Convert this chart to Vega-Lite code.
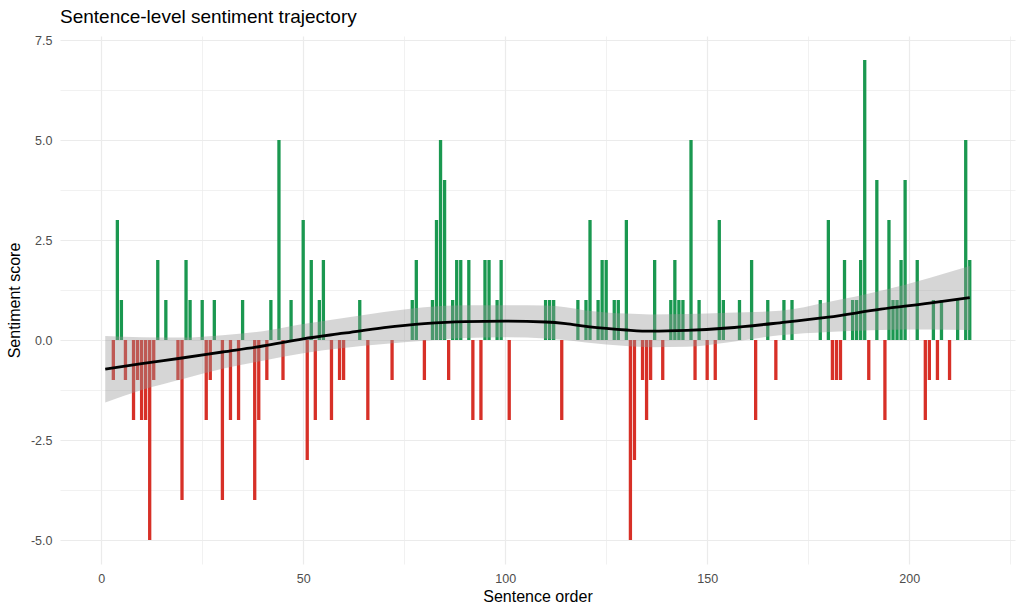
{
  "$schema": "https://vega.github.io/schema/vega-lite/v6.json",
  "width": 955,
  "height": 528,
  "autosize": "none",
  "padding": {"left": 60, "top": 36, "right": 9, "bottom": 50},
  "title": {
    "text": "Sentence-level sentiment trajectory",
    "anchor": "start",
    "frame": "group",
    "font": "Liberation Sans",
    "fontSize": 19,
    "fontWeight": "normal",
    "color": "#000000",
    "offset": 7
  },
  "datasets": {
    "sentences": [
      {"sentence": 3, "score": -1}, {"sentence": 4, "score": 3}, {"sentence": 5, "score": 1},
      {"sentence": 6, "score": -1}, {"sentence": 8, "score": -2}, {"sentence": 9, "score": -1},
      {"sentence": 10, "score": -2}, {"sentence": 11, "score": -2}, {"sentence": 12, "score": -5},
      {"sentence": 13, "score": -1}, {"sentence": 14, "score": 2}, {"sentence": 16, "score": 1},
      {"sentence": 19, "score": -1}, {"sentence": 20, "score": -4}, {"sentence": 21, "score": 2},
      {"sentence": 22, "score": 1}, {"sentence": 25, "score": 1}, {"sentence": 26, "score": -2},
      {"sentence": 27, "score": -1}, {"sentence": 28, "score": 1}, {"sentence": 30, "score": -4},
      {"sentence": 32, "score": -2}, {"sentence": 34, "score": -2}, {"sentence": 35, "score": 1},
      {"sentence": 38, "score": -4}, {"sentence": 39, "score": -2}, {"sentence": 41, "score": -1},
      {"sentence": 42, "score": 1}, {"sentence": 44, "score": 5}, {"sentence": 45, "score": -1},
      {"sentence": 47, "score": 1}, {"sentence": 50, "score": 3}, {"sentence": 51, "score": -3},
      {"sentence": 52, "score": 2}, {"sentence": 53, "score": -2}, {"sentence": 54, "score": 1},
      {"sentence": 55, "score": 2}, {"sentence": 57, "score": -2}, {"sentence": 59, "score": -1},
      {"sentence": 60, "score": -1}, {"sentence": 64, "score": 1}, {"sentence": 66, "score": -2},
      {"sentence": 72, "score": -1}, {"sentence": 77, "score": 1}, {"sentence": 78, "score": 2},
      {"sentence": 80, "score": -1}, {"sentence": 82, "score": 1}, {"sentence": 83, "score": 3},
      {"sentence": 84, "score": 5}, {"sentence": 85, "score": 4}, {"sentence": 86, "score": -1},
      {"sentence": 87, "score": 1}, {"sentence": 88, "score": 2}, {"sentence": 89, "score": 2},
      {"sentence": 91, "score": 2}, {"sentence": 92, "score": -2}, {"sentence": 94, "score": -2},
      {"sentence": 95, "score": 2}, {"sentence": 96, "score": 2}, {"sentence": 98, "score": 1},
      {"sentence": 99, "score": 2}, {"sentence": 101, "score": -2}, {"sentence": 110, "score": 1},
      {"sentence": 111, "score": 1}, {"sentence": 112, "score": 1}, {"sentence": 114, "score": -2},
      {"sentence": 118, "score": 1}, {"sentence": 120, "score": 1}, {"sentence": 121, "score": 3},
      {"sentence": 123, "score": 1}, {"sentence": 124, "score": 2}, {"sentence": 125, "score": 2},
      {"sentence": 127, "score": 1}, {"sentence": 128, "score": 1}, {"sentence": 130, "score": 3},
      {"sentence": 131, "score": -5}, {"sentence": 132, "score": -3}, {"sentence": 134, "score": -1},
      {"sentence": 135, "score": -2}, {"sentence": 136, "score": -1}, {"sentence": 137, "score": 2},
      {"sentence": 139, "score": -1}, {"sentence": 141, "score": 1}, {"sentence": 142, "score": 2},
      {"sentence": 143, "score": 1}, {"sentence": 144, "score": 1}, {"sentence": 146, "score": 5},
      {"sentence": 147, "score": -1}, {"sentence": 148, "score": 1}, {"sentence": 150, "score": -1},
      {"sentence": 152, "score": -1}, {"sentence": 153, "score": 3}, {"sentence": 154, "score": 1},
      {"sentence": 158, "score": 1}, {"sentence": 161, "score": 2}, {"sentence": 162, "score": -2},
      {"sentence": 165, "score": 1}, {"sentence": 167, "score": -1}, {"sentence": 169, "score": 1},
      {"sentence": 171, "score": 1}, {"sentence": 178, "score": 1}, {"sentence": 180, "score": 3},
      {"sentence": 181, "score": -1}, {"sentence": 182, "score": -1}, {"sentence": 183, "score": -1},
      {"sentence": 184, "score": 2}, {"sentence": 186, "score": 1}, {"sentence": 187, "score": 1},
      {"sentence": 188, "score": 2}, {"sentence": 189, "score": 7}, {"sentence": 190, "score": -1},
      {"sentence": 192, "score": 4}, {"sentence": 194, "score": -2}, {"sentence": 195, "score": 3},
      {"sentence": 196, "score": 1}, {"sentence": 197, "score": 1}, {"sentence": 198, "score": 2},
      {"sentence": 199, "score": 4}, {"sentence": 202, "score": 2}, {"sentence": 204, "score": -2},
      {"sentence": 205, "score": -1}, {"sentence": 206, "score": 1}, {"sentence": 207, "score": -1},
      {"sentence": 208, "score": 1}, {"sentence": 210, "score": -1}, {"sentence": 212, "score": 1},
      {"sentence": 214, "score": 5}, {"sentence": 215, "score": 2}
    ],
    "smooth": [
      {"sentence": 1, "fit": -0.73, "lo": -1.56, "hi": 0.10},
      {"sentence": 10, "fit": -0.59, "lo": -1.25, "hi": 0.07},
      {"sentence": 20, "fit": -0.45, "lo": -0.98, "hi": 0.06},
      {"sentence": 30, "fit": -0.30, "lo": -0.72, "hi": 0.12},
      {"sentence": 40, "fit": -0.15, "lo": -0.52, "hi": 0.22},
      {"sentence": 50, "fit": 0.03, "lo": -0.33, "hi": 0.40},
      {"sentence": 60, "fit": 0.17, "lo": -0.20, "hi": 0.55},
      {"sentence": 70, "fit": 0.31, "lo": -0.10, "hi": 0.70},
      {"sentence": 80, "fit": 0.41, "lo": -0.02, "hi": 0.82},
      {"sentence": 90, "fit": 0.46, "lo": 0.05, "hi": 0.87},
      {"sentence": 100, "fit": 0.47, "lo": 0.07, "hi": 0.87},
      {"sentence": 110, "fit": 0.45, "lo": 0.04, "hi": 0.86},
      {"sentence": 115, "fit": 0.41, "lo": 0.00, "hi": 0.82},
      {"sentence": 120, "fit": 0.34, "lo": -0.06, "hi": 0.74},
      {"sentence": 125, "fit": 0.29, "lo": -0.11, "hi": 0.69},
      {"sentence": 130, "fit": 0.25, "lo": -0.15, "hi": 0.66},
      {"sentence": 136, "fit": 0.22, "lo": -0.18, "hi": 0.64},
      {"sentence": 145, "fit": 0.24, "lo": -0.17, "hi": 0.65},
      {"sentence": 155, "fit": 0.30, "lo": -0.06, "hi": 0.68},
      {"sentence": 168, "fit": 0.43, "lo": 0.12, "hi": 0.73},
      {"sentence": 180, "fit": 0.57, "lo": 0.20, "hi": 0.95},
      {"sentence": 193, "fit": 0.77, "lo": 0.25, "hi": 1.23},
      {"sentence": 205, "fit": 0.92, "lo": 0.26, "hi": 1.55},
      {"sentence": 215, "fit": 1.06, "lo": 0.25, "hi": 1.85}
    ]
  },
  "encoding": {
    "x": {
      "field": "sentence",
      "type": "quantitative",
      "scale": {"domain": [-10.2, 226.2], "nice": false, "zero": false, "padding": 0},
      "axis": {
        "title": "Sentence order",
        "values": [0, 25, 50, 75, 100, 125, 150, 175, 200, 225],
        "labelExpr": "datum.value % 50 === 0 ? datum.label : ''",
        "format": "d",
        "gridWidth": {"condition": {"test": "datum.value % 50 === 0", "value": 1.2}, "value": 0.7},
        "labelPadding": 8,
        "titlePadding": 4
      }
    }
  },
  "layer": [
    {
      "data": {"name": "sentences"},
      "mark": {"type": "bar", "width": 3.3},
      "encoding": {
        "y": {
          "field": "score",
          "type": "quantitative",
          "scale": {"domain": [-5.6, 7.6], "nice": false, "zero": false, "padding": 0},
          "axis": {
            "title": "Sentiment score",
            "values": [-5, -3.75, -2.5, -1.25, 0, 1.25, 2.5, 3.75, 5, 6.25, 7.5],
            "labelExpr": "datum.value % 2.5 === 0 ? replace(format(datum.value, '.1f'), '\u2212', '-') : ''",
            "gridWidth": {"condition": {"test": "datum.value % 2.5 === 0", "value": 1.2}, "value": 0.7},
            "labelPadding": 8,
            "titlePadding": 8
          }
        },
        "y2": {"datum": 0},
        "color": {
          "condition": {"test": "datum.score > 0", "value": "#1a9850"},
          "value": "#d73027"
        }
      }
    },
    {
      "mark": {"type": "rule", "color": "#000000", "strokeWidth": 1.2, "strokeDash": [6, 5]},
      "encoding": {"y": {"datum": 0}, "x": null}
    },
    {
      "data": {"name": "smooth"},
      "mark": {"type": "area", "color": "#999999", "opacity": 0.4, "interpolate": "monotone"},
      "encoding": {
        "y": {"field": "lo", "type": "quantitative"},
        "y2": {"field": "hi"}
      }
    },
    {
      "data": {"name": "smooth"},
      "mark": {"type": "line", "color": "#000000", "strokeWidth": 2.8, "interpolate": "monotone"},
      "encoding": {
        "y": {"field": "fit", "type": "quantitative"}
      }
    }
  ],
  "config": {
    "view": {"stroke": null},
    "font": "Liberation Sans",
    "axis": {
      "domain": false,
      "ticks": false,
      "gridColor": "#ebebeb",
      "labelFont": "Liberation Sans",
      "labelFontSize": 12.5,
      "labelColor": "#4d4d4d",
      "titleFont": "Liberation Sans",
      "titleFontSize": 16,
      "titleFontWeight": "normal",
      "titleColor": "#000000"
    }
  }
}
